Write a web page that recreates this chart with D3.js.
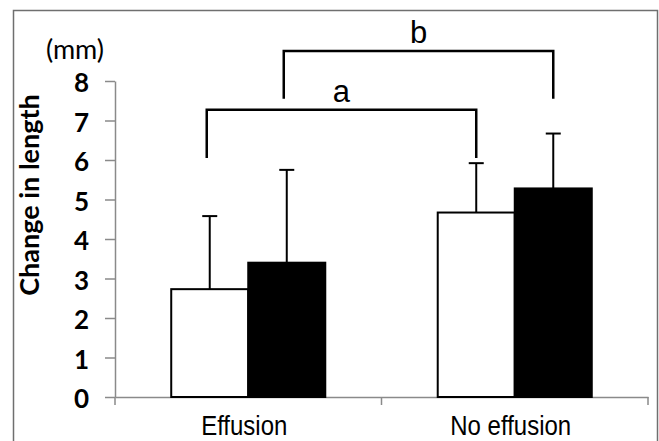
<!DOCTYPE html>
<html>
<head>
<meta charset="utf-8">
<script src="https://cdn.jsdelivr.net/npm/d3@7"></script>
<style>
    html, body { margin: 0; padding: 0; background: #ffffff; }
    svg { display: block; }
    .tick-label { font-family: Lato, 'Open Sans', sans-serif; font-weight: 700; font-size: 26px; fill: #000; }
    .axis-title { font-family: Lato, 'Open Sans', sans-serif; font-weight: 700; font-size: 27px; fill: #000; }
    .unit-label { font-family: Lato, 'Open Sans', sans-serif; font-size: 27px; fill: #000; }
    .category-label { font-family: 'Liberation Sans', Arial, sans-serif; font-size: 24px; fill: #000; }
    .bracket-label { font-family: 'Liberation Sans', Arial, sans-serif; font-size: 31px; fill: #000; }
</style>
</head>
<body>
<div id="chart"></div>
<script>
const categories = ['Effusion', 'No effusion'];
const seriesNames = ['open', 'filled'];
const seriesFills = ['#ffffff', '#000000'];
// mean change in length (mm), one row per category, one column per series
const meanValues = [
    [2.73, 3.40],
    [4.67, 5.28]
];
// upper error bar length (mm)
const errorValues = [
    [1.85, 2.35],
    [1.25, 1.39]
];
const yTicks = [0, 1, 2, 3, 4, 5, 6, 7, 8];
const brackets = [
    { label: 'a', series: 'open', level: 7.27, drop: 6.05 },
    { label: 'b', series: 'filled', level: 8.76, drop: 7.55 }
];

const width = 659;
const height = 441;
const axisColor = '#8a8a8a';

const svg = d3.select('#chart').append('svg')
    .attr('width', width)
    .attr('height', height);

// outer frame (bottom edge is cut off in the original)
svg.append('path')
    .attr('d', `M13.5,${height} V10.5 H657.5 V${height}`)
    .attr('fill', 'none')
    .attr('stroke', '#6f6f6f')
    .attr('stroke-width', 1.5);

const xScale = d3.scaleBand()
    .domain(categories)
    .range([115, 648]);

const seriesScale = d3.scaleBand()
    .domain(seriesNames)
    .range([0, xScale.bandwidth()])
    .paddingInner(0)
    .paddingOuter(0.73);

const yScale = d3.scaleLinear()
    .domain([0, 8])
    .range([397, 81]);

const barCenter = (category, series) => xScale(category) + seriesScale(series) + seriesScale.bandwidth() / 2;

// y axis
const yAxis = svg.append('g')
    .attr('transform', 'translate(115,0)')
    .call(d3.axisLeft(yScale).tickValues(yTicks).tickSize(10).tickPadding(16).tickSizeOuter(0))
    .call((group) => group.select('.domain').attr('stroke', axisColor).attr('stroke-width', 1.5))
    .call((group) => group.selectAll('.tick line').attr('stroke', axisColor).attr('stroke-width', 1.5));
yAxis.selectAll('.tick text')
    .attr('class', 'tick-label')
    .attr('dy', '0.42em');

// x axis
svg.append('g')
    .attr('transform', `translate(0,${yScale(0)})`)
    .call(d3.axisBottom(xScale).tickSize(0).tickFormat(''))
    .call((group) => group.select('.domain').attr('stroke', axisColor).attr('stroke-width', 1.5))
    .call((group) => group.selectAll('.tick').remove());

const boundaries = [xScale.range()[0], ...categories.map((category) => xScale(category) + xScale.bandwidth())];
svg.selectAll('.x-tick')
    .data(boundaries)
    .enter()
    .append('line')
    .attr('class', 'x-tick')
    .attr('x1', (value) => value)
    .attr('x2', (value) => value)
    .attr('y1', yScale(0))
    .attr('y2', yScale(0) + 8)
    .attr('stroke', axisColor)
    .attr('stroke-width', 1.5);

svg.selectAll('.category-label')
    .data(categories)
    .enter()
    .append('text')
    .attr('class', 'category-label')
    .attr('text-anchor', 'middle')
    .attr('transform', (category) => `translate(${xScale(category) + xScale.bandwidth() / 2 - 4},435) scale(1,1.12)`)
    .text((category) => category);

// y title and unit
svg.append('text')
    .attr('class', 'axis-title')
    .attr('text-anchor', 'middle')
    .attr('transform', 'translate(39,195) rotate(-90)')
    .text('Change in length');

svg.append('text')
    .attr('class', 'unit-label')
    .attr('text-anchor', 'middle')
    .attr('x', 75)
    .attr('y', 59)
    .text('(mm)');

// bars
const cells = [];
categories.forEach((category, categoryIndex) => {
    seriesNames.forEach((series, seriesIndex) => {
        cells.push({
            category,
            series,
            fill: seriesFills[seriesIndex],
            value: meanValues[categoryIndex][seriesIndex],
            error: errorValues[categoryIndex][seriesIndex]
        });
    });
});

// error bars (upper only)
const errorGroup = svg.append('g');
errorGroup.selectAll('.error-stem')
    .data(cells)
    .enter()
    .append('line')
    .attr('x1', (datum) => barCenter(datum.category, datum.series))
    .attr('x2', (datum) => barCenter(datum.category, datum.series))
    .attr('y1', (datum) => yScale(datum.value))
    .attr('y2', (datum) => yScale(datum.value + datum.error))
    .attr('stroke', '#000')
    .attr('stroke-width', 2);
errorGroup.selectAll('.error-cap')
    .data(cells)
    .enter()
    .append('line')
    .attr('x1', (datum) => barCenter(datum.category, datum.series) - 7.5)
    .attr('x2', (datum) => barCenter(datum.category, datum.series) + 7.5)
    .attr('y1', (datum) => yScale(datum.value + datum.error))
    .attr('y2', (datum) => yScale(datum.value + datum.error))
    .attr('stroke', '#000')
    .attr('stroke-width', 2);

svg.selectAll('.bar')
    .data(cells)
    .enter()
    .append('rect')
    .attr('class', 'bar')
    .attr('x', (datum) => xScale(datum.category) + seriesScale(datum.series))
    .attr('y', (datum) => yScale(datum.value))
    .attr('width', seriesScale.bandwidth())
    .attr('height', (datum) => yScale(0) - yScale(datum.value))
    .attr('fill', (datum) => datum.fill)
    .attr('stroke', '#000')
    .attr('stroke-width', 2);

// significance brackets
brackets.forEach((bracket) => {
    const left = barCenter(categories[0], bracket.series) - 3;
    const right = barCenter(categories[1], bracket.series);
    const top = yScale(bracket.level);
    const bottom = yScale(bracket.drop);

    svg.append('path')
        .attr('d', `M${left},${bottom} V${top} H${right} V${bottom}`)
        .attr('fill', 'none')
        .attr('stroke', '#000')
        .attr('stroke-width', 2.5);

    svg.append('text')
        .attr('class', 'bracket-label')
        .attr('text-anchor', 'middle')
        .attr('x', (left + right) / 2)
        .attr('y', top - 8)
        .text(bracket.label);
});
</script>
</body>
</html>
